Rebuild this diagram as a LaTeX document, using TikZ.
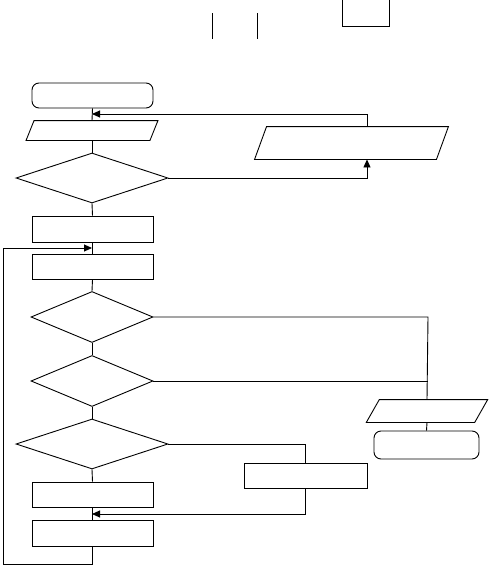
\documentclass[tikz,border=0pt]{standalone}
\usetikzlibrary{arrows.meta,shapes.geometric}
\begin{document}
\begin{tikzpicture}[x=1pt,y=-1pt,line width=0.9pt,
  box/.style={draw,rectangle,inner sep=0pt,minimum width=121pt},
  term/.style={draw,rectangle,rounded corners=7pt,inner sep=0pt},
  dia/.style={draw,diamond,inner sep=0pt},
  pbody/.style={rectangle,inner sep=0pt},
  arr/.style={-{Triangle[length=8pt,width=7pt]}}]
\useasboundingbox (0,0) rectangle (489,565);
% top marks
\draw (212,13) -- (212,39);
\draw (257,13) -- (257,39);
\draw (342,0) -- (342,26) -- (389,26) -- (389,0);
% nodes
\node[term,minimum width=121pt,minimum height=25pt] (start) at (92.5,95.5) {};
\node[pbody,minimum width=123pt,minimum height=19pt] (in1) at (92,130.5) {};
\node[dia,minimum width=152pt,minimum height=50pt] (d1) at (92,178) {};
\node[pbody,minimum width=181pt,minimum height=32pt] (out1) at (351.5,143) {};
\node[box,minimum height=26pt] (r1) at (92.5,229) {};
\node[box,minimum height=25pt] (r2) at (92.5,266.5) {};
\node[dia,minimum width=122pt,minimum height=51pt] (d2) at (92,317) {};
\node[dia,minimum width=122pt,minimum height=51pt] (d3) at (92,381) {};
\node[pbody,minimum width=107.5pt,minimum height=22pt] (out2) at (427,411) {};
\node[term,minimum width=105pt,minimum height=28pt] (end) at (426.5,445) {};
\node[dia,minimum width=152pt,minimum height=50pt] (d4) at (92,444) {};
\node[box,minimum width=123pt,minimum height=25pt] (rr) at (305.5,475.5) {};
\node[box,minimum height=25pt] (r3) at (92.5,494.5) {};
\node[box,minimum height=26pt] (r4) at (92.5,533) {};
% parallelograms
\draw ([xshift=-4pt]in1.south west) -- ([xshift=-4pt]in1.south east) -- ([xshift=4pt]in1.north east) -- ([xshift=4pt]in1.north west) -- cycle;
\draw ([xshift=-6pt]out1.south west) -- ([xshift=-6pt]out1.south east) -- ([xshift=6pt]out1.north east) -- ([xshift=6pt]out1.north west) -- cycle;
\draw ([xshift=-6.5pt]out2.south west) -- ([xshift=-6.5pt]out2.south east) -- ([xshift=6.5pt]out2.north east) -- ([xshift=6.5pt]out2.north west) -- cycle;
% helper coordinates
\coordinate (jx) at (367,114);
\coordinate (m1) at (92,114);
\coordinate (m2) at (92,248);
\coordinate (m3) at (92,514);
\coordinate (lb) at (3,564);
\coordinate (rx) at (428,317);
% main flow
\draw (start.south) -- (in1.north);
\draw (in1.south) -- (d1.north);
\draw (d1.south) -- (r1.north);
\draw (r1.south) -- (r2.north);
\draw (r2.south) -- (d2.north);
\draw (d2.south) -- (d3.north);
\draw (d3.south) -- (d4.north);
\draw (d4.south) -- (r3.north);
\draw (r3.south) -- (r4.north);
\draw (out2.south) -- (end.north);
% loops and branches
\draw[arr] (out1.north -| jx) -- (jx) -- (m1);
\draw[arr] (d1.east) -| (out1.south -| jx);
\draw[arr] (r4.south) -- (r4.south |- lb) -- (lb) -- (lb |- m2) -- (m2);
\draw (d2.east) -- (rx) -- (out2.north);
\draw (d3.east) -- (d3.east -| rx);
\draw (d4.east) -| (rr.north);
\draw[arr] (rr.south) -- (rr.south |- m3) -- (m3);
\end{tikzpicture}
\end{document}
